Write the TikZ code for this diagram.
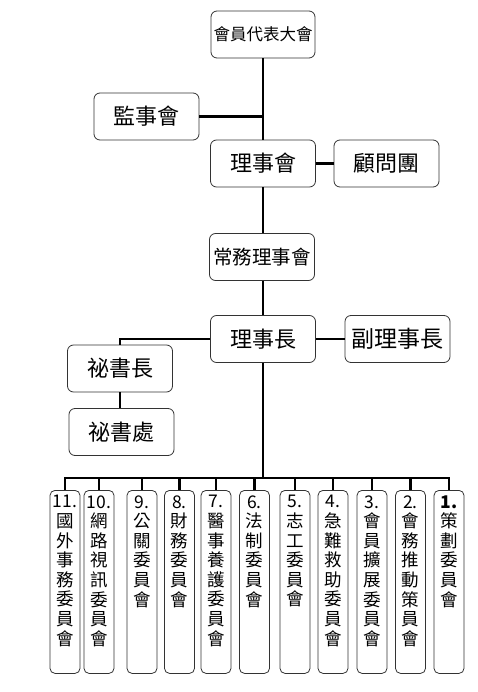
\documentclass[tikz,border=0pt]{standalone}
\usepackage{fontspec}
\setmainfont{Noto Sans CJK TC}
\usepackage{tikz}
\usetikzlibrary{positioning}
\tikzstyle{caja} = [rectangle, rounded corners=6pt, minimum width=105pt, minimum height=47pt, text centered, draw=black!80, line width=0.8pt, inner sep=0pt, font=\fontsize{22}{24}\selectfont]
\tikzstyle{comite} = [rectangle, rounded corners=5pt, minimum width=30pt, draw=black!80, line width=0.8pt, inner sep=2pt, anchor=north]
\tikzstyle{linea} = [line width=2.6pt, black]
\newcommand{\columna}[1]{\parbox[c][179pt][t]{26pt}{\vspace*{3pt}\centering\fontsize{17.5}{19.6}\selectfont #1}}

\begin{document}
\begin{tikzpicture}[x=1pt, y=-1pt]
        \useasboundingbox (0,0) rectangle (478,692);

        % Nodos principales
        \node (asamblea) [caja, minimum width=104pt, font=\fontsize{16.5}{18}\selectfont] at (263,34.5) {會員代表大會};
        \node (supervision) [caja] at (146.5,116.5) {監事會};
        \node (consejo) [caja] at (263,163.5) {理事會};
        \node (asesores) [caja] at (386.5,163.5) {顧問團};
        \node (permanente) [caja, font=\fontsize{19.5}{21}\selectfont] at (262,257) {常務理事會};
        \node (presidente) [caja] at (263,339) {理事長};
        \node (vicepresidente) [caja, font=\fontsize{23}{25}\selectfont] at (397.5,339) {副理事長};
        \node (secretario) [caja] at (120,368.5) {祕書長};
        \node (secretaria) [caja] at (121.5,432) {祕書處};

        % Comites
        \node (c11) [comite] at (65,490) {\columna{11.\\國\\外\\事\\務\\委\\員\\會}};
        \node (c10) [comite] at (99,490) {\columna{10.\\網\\路\\視\\訊\\委\\員\\會}};
        \node (c9) [comite] at (142,490) {\columna{9.\\公\\關\\委\\員\\會}};
        \node (c8) [comite] at (179.5,490) {\columna{8.\\財\\務\\委\\員\\會}};
        \node (c7) [comite] at (216,490) {\columna{7.\\醫\\事\\養\\護\\委\\員\\會}};
        \node (c6) [comite] at (254.5,490) {\columna{6.\\法\\制\\委\\員\\會}};
        \node (c5) [comite] at (295,490) {\columna{5.\\志\\工\\委\\員\\會}};
        \node (c4) [comite] at (333,490) {\columna{4.\\急\\難\\救\\助\\委\\員\\會}};
        \node (c3) [comite] at (372,490) {\columna{3.\\會\\員\\擴\\展\\委\\員\\會}};
        \node (c2) [comite] at (410.5,490) {\columna{2.\\會\\務\\推\\動\\策\\員\\會}};
        \node (c1) [comite] at (449,490) {\columna{\textbf{1.}\\策\\劃\\委\\員\\會}};

        \coordinate (bus) at (263,478);

        % Conexiones
        \draw [linea] (asamblea) -- (consejo);
        \draw [linea] (supervision.east) -- (supervision.east -| asamblea.south);
        \draw [linea] (consejo) -- (asesores);
        \draw [linea] (consejo) -- (permanente.north -| consejo.south);
        \draw [linea] (permanente.south -| presidente.north) -- (presidente);
        \draw [linea] (presidente) -- (vicepresidente);
        \draw [linea] (presidente.west) -| (secretario.north);
        \draw [linea] (secretario.south) -- (secretario.south |- secretaria.north);
        \draw [linea] (presidente.south) -- (bus);
        \draw [linea] (bus) -| (c11.north);
        \draw [linea] (bus) -| (c10.north);
        \draw [linea] (bus) -| (c9.north);
        \draw [linea] (bus) -| (c8.north);
        \draw [linea] (bus) -| (c7.north);
        \draw [linea] (bus) -| (c6.north);
        \draw [linea] (bus) -| (c5.north);
        \draw [linea] (bus) -| (c4.north);
        \draw [linea] (bus) -| (c3.north);
        \draw [linea] (bus) -| (c2.north);
        \draw [linea] (bus) -| (c1.north);

    \end{tikzpicture}
\end{document}
